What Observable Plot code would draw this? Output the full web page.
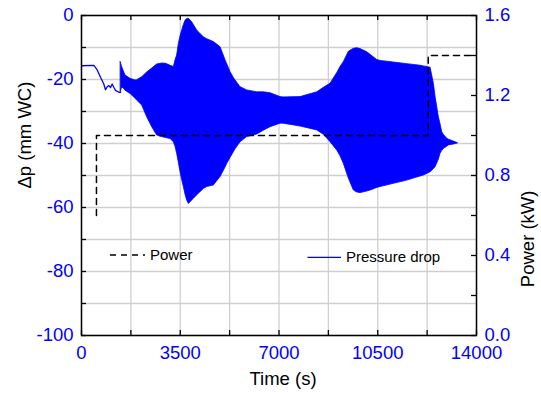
<!DOCTYPE html>
<html>
<head>
<meta charset="utf-8">
<script src="https://cdn.jsdelivr.net/npm/d3@7"></script>
<script src="https://cdn.jsdelivr.net/npm/@observablehq/plot@0.6"></script>
<style>
  html, body { margin: 0; padding: 0; background: #fff; }
</style>
</head>
<body>
<div id="chart"></div>
<script>
// ---- Data ----
// Early pressure-drop trace (before oscillations), time (s) and Δp (mm WC)
const earlyTime = [0, 440, 556, 673, 790, 850, 910, 968, 1030, 1087, 1150, 1205, 1323, 1385];
const earlyDp   = [-15.7, -15.6, -17.0, -19.3, -21.4, -23.2, -22.3, -21.9, -22.5, -21.4, -22.5, -23.4, -24.0, -24.0];

// Oscillating pressure drop: envelope (upper / lower) of the oscillation band
const envTime  = [1390, 1440, 1500, 1560, 1737, 1914, 1973, 2150, 2327, 2505, 2682, 2860, 3000, 3155, 3273, 3332, 3390, 3450, 3510, 3569, 3627, 3687, 3745, 3804, 3924, 3982, 4101, 4218, 4337, 4455, 4691, 4928, 5105, 5164, 5282, 5400, 5460, 5637, 5873, 6228, 6464, 6700, 7054, 7160, 7763, 8355, 8590, 8827, 9064, 9180, 9300, 9477, 9654, 9770, 9890, 10130, 10245, 10480, 10600, 11070, 11545, 12017, 12135, 12372, 12490, 12550, 12666, 12725, 12786, 12843, 12960, 13020, 13195, 13340];
const envUpper = [-14.6, -16.1, -17.5, -18.75, -19.8, -20.3, -20.2, -19.3, -17.8, -16.6, -15.3, -15.0, -15.1, -15.7, -16.1, -14.0, -12.5, -8.9, -6.5, -4.7, -3.0, -1.6, -1.1, -1.0, -2.1, -3.0, -4.7, -5.8, -6.8, -7.4, -8.3, -9.9, -14.0, -15.2, -17.7, -19.5, -20.3, -22.4, -23.4, -24.0, -24.0, -24.3, -25.5, -25.6, -25.5, -24.0, -22.6, -21.3, -18.0, -16.1, -14.5, -11.3, -10.4, -10.2, -10.5, -11.5, -12.3, -13.9, -14.2, -14.7, -15.2, -15.7, -15.9, -16.3, -21.4, -25.5, -31.8, -34.0, -36.5, -37.3, -38.5, -38.8, -39.4, -39.9];
const envLower = [-24.0, -22.5, -22.8, -23.5, -24.5, -26.0, -26.6, -28.1, -31.8, -34.9, -37.5, -38.0, -38.3, -38.6, -39.6, -41.0, -43.2, -46.0, -49.0, -51.5, -53.6, -56.0, -57.8, -58.9, -57.8, -57.3, -56.2, -55.2, -54.2, -53.6, -53.1, -50.5, -47.5, -46.4, -44.5, -42.7, -41.8, -39.6, -38.0, -37.2, -36.0, -34.9, -33.8, -33.8, -34.7, -35.9, -37.3, -39.6, -42.2, -44.0, -46.4, -51.0, -54.7, -55.3, -55.5, -55.0, -54.7, -53.9, -53.6, -52.6, -51.6, -50.3, -50.0, -49.0, -48.0, -47.4, -45.0, -43.2, -42.3, -41.7, -41.0, -40.6, -40.3, -40.0];

// Power step series (kW)
const powerTime = [530, 530, 12290, 12290, 13900];
const powerKW   = [0.6, 1.0, 1.0, 1.4, 1.4];

// Axis ticks
const xTicks      = [0, 3500, 7000, 10500, 14000];
const xMinorTicks = [0, 1750, 3500, 5250, 7000, 8750, 10500, 12250, 14000];
const dpTicks      = [-100, -80, -60, -40, -20, 0];
const dpMinorTicks = [-100, -90, -80, -70, -60, -50, -40, -30, -20, -10, 0];
const powerTickLabels = [0.0, 0.4, 0.8, 1.2, 1.6];
const powerMinorTicks = [0.0, 0.2, 0.4, 0.6, 0.8, 1.0, 1.2, 1.4, 1.6];

// Legend labels
const legendLabels = ["Power", "Pressure drop"];

// ---- Secondary-axis mapping: power (0..1.6 kW) onto Δp scale (-100..0) ----
const pMin = 0, pMax = 1.6, dMin = -100, dMax = 0;
const p2d = p => dMin + (p - pMin) * (dMax - dMin) / (pMax - pMin);
const d2p = d => pMin + (d - dMin) * (pMax - pMin) / (dMax - dMin);

const early = earlyTime.map((t, i) => ({t, dp: earlyDp[i]}));
const band  = envTime.map((t, i) => ({t, hi: envUpper[i], lo: envLower[i]}));
const power = powerTime.map((t, i) => ({t, y: p2d(powerKW[i])}));

const BLUE = "#0000ff";
const FONT = "'Liberation Sans', Arial, Helvetica, sans-serif";
const W = 541, H = 393, ML = 81, MR = 65, MT = 15, MB = 58;
const PW = W - ML - MR, PH = H - MT - MB;
const TICK = 5;

function legend(index, scales, values, dims) {
  const g = d3.create("svg:g")
    .attr("font-family", FONT).attr("font-size", 15).attr("fill", "#000")
    .attr("text-anchor", "start");
  const L = dims.marginLeft, T = dims.marginTop;
  // Power entry
  g.append("line").attr("x1", L + 29).attr("x2", L + 64).attr("y1", T + 240).attr("y2", T + 240)
    .attr("stroke", "#000").attr("stroke-width", 1.5).attr("stroke-dasharray", "6,5");
  g.append("text").attr("x", L + 69).attr("y", T + 240).attr("dy", "0.35em").attr("text-anchor", "start").text(legendLabels[0]);
  // Pressure drop entry
  g.append("line").attr("x1", L + 226.5).attr("x2", L + 260).attr("y1", T + 242.3).attr("y2", T + 242.3)
    .attr("stroke", BLUE).attr("stroke-width", 1.2);
  g.append("text").attr("x", L + 265).attr("y", T + 242).attr("dy", "0.35em").attr("text-anchor", "start").text(legendLabels[1]);
  return g.node();
}

const chart = Plot.plot({
  width: W, height: H,
  marginLeft: ML, marginRight: MR, marginTop: MT, marginBottom: MB,
  x: {domain: [0, 14000]},
  y: {domain: [dMin, dMax]},
  style: {fontFamily: FONT, fontSize: "18.5px", background: "#fff", color: "#000", overflow: "visible"},
  marks: [
    Plot.gridX(xMinorTicks, {stroke: "#cfcfcf", strokeOpacity: 1, strokeWidth: 1.3}),
    Plot.gridY(dpMinorTicks, {stroke: "#cfcfcf", strokeOpacity: 1, strokeWidth: 1.3}),
    Plot.areaY(band, {x: "t", y1: "lo", y2: "hi", fill: BLUE, stroke: BLUE, strokeWidth: 0.8, curve: "linear"}),
    Plot.line(early, {x: "t", y: "dp", stroke: BLUE, strokeWidth: 1.3}),
    Plot.line(power, {x: "t", y: "y", stroke: "#000", strokeWidth: 1.5, strokeDasharray: "6,5"}),
    Plot.frame({stroke: "#000", strokeWidth: 1.5}),
    // inward ticks
    Plot.tickX(xMinorTicks, {x: d => d, insetTop: PH - TICK, stroke: "#000", strokeWidth: 1.3}),
    Plot.tickX(xMinorTicks, {x: d => d, insetBottom: PH - TICK, stroke: "#000", strokeWidth: 1.3}),
    Plot.tickY(dpMinorTicks, {y: d => d, insetRight: PW - TICK, stroke: "#000", strokeWidth: 1.3}),
    Plot.tickY(powerMinorTicks.map(p2d), {y: d => d, insetLeft: PW - TICK, stroke: "#000", strokeWidth: 1.3}),
    // tick labels
    Plot.axisX({ticks: xTicks, tickSize: 0, tickPadding: 10, tickFormat: d => String(d), color: BLUE, fontSize: 18.5, label: null}),
    Plot.axisY({anchor: "left", ticks: dpTicks, tickSize: 0, tickPadding: 8, tickFormat: d => String(d), color: BLUE, fontSize: 18.5, label: null}),
    Plot.axisY({anchor: "right", ticks: powerTickLabels.map(p2d), tickSize: 0, tickPadding: 8, tickFormat: d => d2p(d).toFixed(1), color: BLUE, fontSize: 18.5, label: null}),
    // axis titles
    Plot.text(["Time (s)"], {frameAnchor: "bottom", dx: 4, dy: 44, text: d => d, fontSize: 18.5, fill: "#000", lineAnchor: "middle"}),
    Plot.text(["Δp (mm WC)"], {frameAnchor: "left", dx: -56, dy: 13, rotate: -90, text: d => d, fontSize: 18.5, fill: "#000", lineAnchor: "middle"}),
    Plot.text(["Power (kW)"], {frameAnchor: "right", dx: 52, dy: 15, rotate: -90, text: d => d, fontSize: 18.5, fill: "#000", lineAnchor: "middle"}),
    legend
  ]
});
document.getElementById("chart").appendChild(chart);
</script>
</body>
</html>
